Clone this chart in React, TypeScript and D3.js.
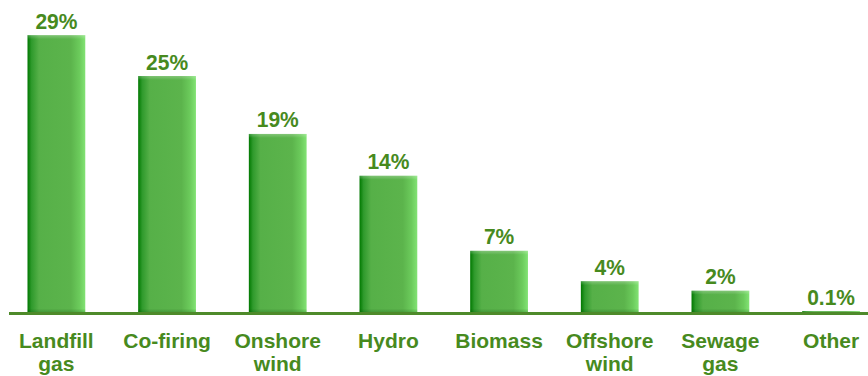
import React from "react";
import * as d3 from "d3";

const categories: string[][] = [
  ["Landfill", "gas"],
  ["Co-firing"],
  ["Onshore", "wind"],
  ["Hydro"],
  ["Biomass"],
  ["Offshore", "wind"],
  ["Sewage", "gas"],
  ["Other"],
];
const values: number[] = [29.3, 25.0, 18.9, 14.5, 6.6, 3.4, 2.4, 0.25];
const valueLabels: string[] = ["29%", "25%", "19%", "14%", "7%", "4%", "2%", "0.1%"];

const W = 868;
const H = 376;
const TEXT = "#478a1e";

export default function App() {
  const step = 110.67;
  const padInner = 0.478;
  const padOuter = 0.24;
  const x0 = 27.5 - padOuter * step;
  const x = d3
    .scaleBand<number>()
    .domain(d3.range(categories.length))
    .range([x0, x0 + step * (categories.length - padInner + 2 * padOuter)])
    .paddingInner(padInner)
    .paddingOuter(padOuter);
  const baseY = 313.5;
  const y = d3.scaleLinear().domain([0, 30]).range([baseY, baseY - 285]);
  const bw = x.bandwidth();
  const sy = 1.06;

  return (
    <svg
      width={W}
      height={H}
      style={{ position: "absolute", left: 0, top: 0, background: "#fff" }}
      fontFamily="'Liberation Sans', Arial, sans-serif"
    >
      <defs>
        <linearGradient id="barH" x1="0" y1="0" x2="1" y2="0">
          <stop offset="0" stopColor="#007800" />
          <stop offset="0.07" stopColor="#2f9a2c" />
          <stop offset="0.2" stopColor="#56b048" />
          <stop offset="0.75" stopColor="#5cb44c" />
          <stop offset="0.9" stopColor="#6ccb5c" />
          <stop offset="1" stopColor="#82e374" />
        </linearGradient>
        <linearGradient id="barB" x1="0" y1="0" x2="0" y2="1">
          <stop offset="0" stopColor="#004000" stopOpacity="0" />
          <stop offset="1" stopColor="#004000" stopOpacity="0.3" />
        </linearGradient>
        <linearGradient id="barT" x1="0" y1="0" x2="0" y2="1">
          <stop offset="0" stopColor="#ffffff" stopOpacity="0.25" />
          <stop offset="1" stopColor="#ffffff" stopOpacity="0" />
        </linearGradient>
      </defs>
      {values.map((v, i) => {
        const bx = x(i)!;
        const cx = bx + bw / 2;
        const top = y(v);
        const h = baseY - top;
        return (
          <g key={i}>
            <rect x={bx} y={top} width={bw} height={h} fill="url(#barH)" />
            {h > 8 && (
              <rect x={bx} y={top} width={bw} height={Math.min(4, h)} fill="url(#barT)" />
            )}
            {h > 8 && (
              <rect x={bx} y={baseY - 5} width={bw} height={5} fill="url(#barB)" />
            )}
            <text
              transform={`translate(${cx},${top - 6.5}) scale(1,${sy})`}
              textAnchor="middle"
              fontSize={21}
              fontWeight="bold"
              fill={TEXT}
            >
              {valueLabels[i]}
            </text>
            <text
              x={cx}
              y={348}
              textAnchor="middle"
              fontSize={21}
              fontWeight="bold"
              fill={TEXT}
            >
              {categories[i].map((line, j) => (
                <tspan key={j} x={cx} dy={j === 0 ? 0 : 23}>
                  {line}
                </tspan>
              ))}
            </text>
          </g>
        );
      })}
      <line x1={9} x2={W} y1={baseY} y2={baseY} stroke="#4e8a2a" strokeWidth={3} />
    </svg>
  );
}
